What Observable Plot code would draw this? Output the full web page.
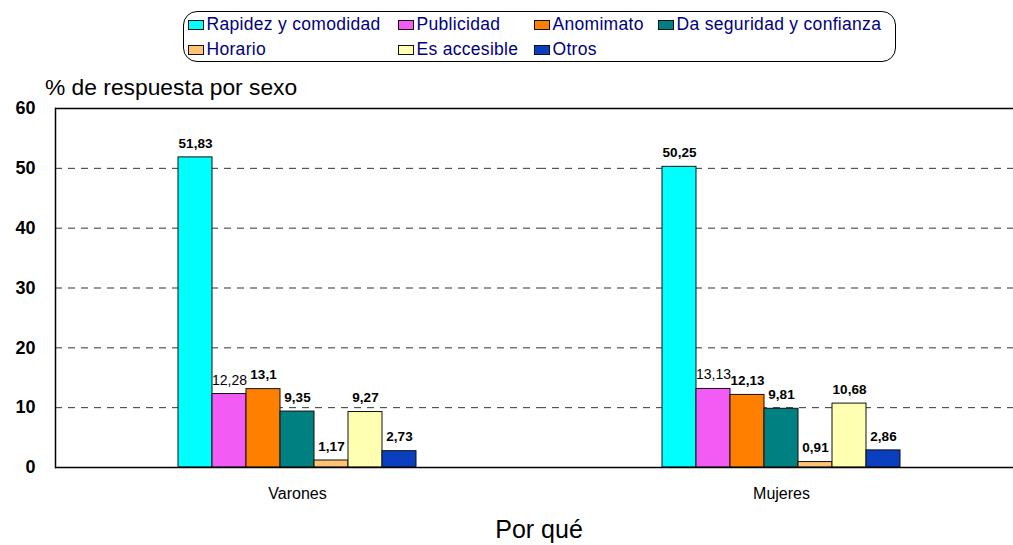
<!DOCTYPE html>
<html>
<head>
<meta charset="utf-8">
<script src="https://cdn.jsdelivr.net/npm/d3@7"></script>
<script src="https://cdn.jsdelivr.net/npm/@observablehq/plot@0.6"></script>
<style>
  html, body { margin: 0; padding: 0; background: #fff; }
  body { width: 1013px; height: 545px; overflow: hidden; font-family: "Liberation Sans", Arial, sans-serif; }
  #top { position: relative; height: 98px; }
  #legend {
    position: absolute; left: 183px; top: 11px; width: 707px; height: 49px;
    border: 1.5px solid #000; border-radius: 14px;
    display: grid; grid-template-columns: 210px 136px 124px auto; grid-auto-rows: 25px;
    padding-left: 3.5px; align-content: start; box-sizing: content-box;
    color: #000080; font-size: 17.5px; letter-spacing: 0.3px;
  }
  .item { display: flex; align-items: center; white-space: nowrap; }
  .sw { width: 14px; height: 8px; border: 1.5px solid #111; margin-right: 3px; flex: none; }
  #title { position: absolute; left: 45px; top: 74px; font-size: 22.8px; color: #000; }
  #caption { margin-left: 55px; width: 968px; text-align: center; font-size: 25px; color: #000; margin-top: 5px; }
</style>
</head>
<body>
<div id="top">
  <div id="legend"></div>
  <div id="title">% de respuesta por sexo</div>
</div>
<div id="chart"></div>
<div id="caption">Por qué</div>
<script>
const categories = ["Rapidez y comodidad", "Publicidad", "Anomimato", "Da seguridad y confianza", "Horario", "Es accesible", "Otros"];
const groups = ["Varones", "Mujeres"];
const varones = [51.83, 12.28, 13.1, 9.35, 1.17, 9.27, 2.73];
const mujeres = [50.25, 13.13, 12.13, 9.81, 0.91, 10.68, 2.86];
const colors = ["#00FFFF", "#F25CF4", "#FF8000", "#008080", "#FFC374", "#FFFFB2", "#0A3FBF"];
const yTicks = [0, 10, 20, 30, 40, 50, 60];
const gridTicks = [10, 20, 30, 40, 50];
const axisTop = 60;

const series = {Varones: varones, Mujeres: mujeres};
const rows = groups.flatMap(g => categories.map((c, i) => ({grupo: g, cat: c, valor: series[g][i]})));
const fmt = v => String(v).replace(".", ",");

// HTML legend
const legend = document.getElementById("legend");
categories.forEach((name, i) => {
  const item = document.createElement("div");
  item.className = "item";
  const sw = document.createElement("span");
  sw.className = "sw";
  sw.style.background = colors[i];
  item.appendChild(sw);
  const t = document.createElement("span");
  t.textContent = name;
  item.appendChild(t);
  legend.appendChild(item);
});

const chart = Plot.plot({
  width: 1013,
  height: 412,
  marginTop: 10,
  marginBottom: 43,
  marginLeft: 55,
  marginRight: 0,
  style: {fontFamily: "Liberation Sans, Arial, sans-serif", color: "#000", background: "#fff", overflow: "visible"},
  fx: {domain: groups, range: [55, 1023], paddingInner: 0, paddingOuter: 0, label: null},
  x: {domain: categories, paddingInner: 0, paddingOuter: 3.5, axis: null},
  y: {domain: [0, axisTop], label: null},
  color: {domain: categories, range: colors},
  marks: [
    Plot.ruleY(gridTicks, {stroke: "#333", strokeDasharray: "7,6"}),
    Plot.barY(rows, {fx: "grupo", x: "cat", y: "valor", fill: "cat", stroke: "#111", strokeWidth: 1}),
    Plot.text(rows.filter(d => d.cat !== "Publicidad"), {fx: "grupo", x: "cat", y: "valor", text: d => fmt(d.valor), dy: -14, fontSize: 13.5, fontWeight: "bold", fill: "#000"}),
    Plot.text(rows.filter(d => d.cat === "Publicidad"), {fx: "grupo", x: "cat", y: "valor", text: d => fmt(d.valor), dy: -14, fontSize: 14, fill: "#000"}),
    Plot.ruleY([0, axisTop], {stroke: "#000", strokeWidth: 1.5}),
    Plot.frame({anchor: "left", stroke: "#000", strokeWidth: 1.5, facet: "super"}),
    Plot.axisY({ticks: yTicks, tickSize: 0, tickPadding: 20, fontSize: 18, fontWeight: "bold", label: null}),
    Plot.axisFx({anchor: "bottom", tickSize: 0, tickPadding: 20, fontSize: 16, label: null})
  ]
});
document.getElementById("chart").appendChild(chart);
</script>
</body>
</html>
